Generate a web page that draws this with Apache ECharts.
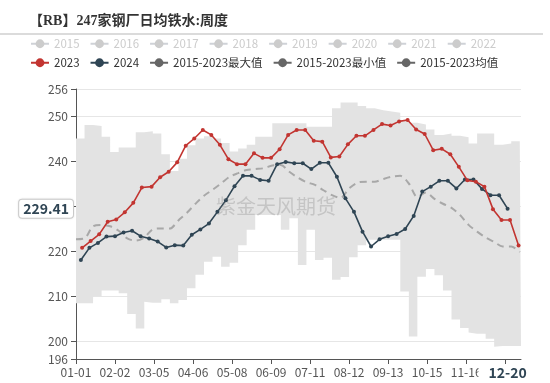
<!DOCTYPE html>
<html><head><meta charset="utf-8">
<script src="https://cdn.jsdelivr.net/npm/echarts@6/dist/echarts.min.js"></script>
<style>html,body{margin:0;padding:0;background:#fff}#c{width:550px;height:383px}</style>
</head><body><div id="c"></div>
<script>
// ---- categories (MM-DD of a leap year) ----
const days = [];
for (let d = new Date(Date.UTC(2024, 0, 1)); d.getUTCFullYear() === 2024; d.setUTCDate(d.getUTCDate() + 1)) {
  days.push(String(d.getUTCMonth() + 1).padStart(2, '0') + '-' + String(d.getUTCDate()).padStart(2, '0'));
}
function weekly(y, m, d, n) {
  const out = []; const t = new Date(Date.UTC(y, m - 1, d));
  for (let i = 0; i < n; i++) {
    out.push(String(t.getUTCMonth() + 1).padStart(2, '0') + '-' + String(t.getUTCDate()).padStart(2, '0'));
    t.setUTCDate(t.getUTCDate() + 7);
  }
  return out;
}
const oldYears = ['2015','2016','2017','2018','2019','2020','2021','2022'];

// ---- series values ----
const vals2023 = [220.7,222.2,223.7,226.5,227.0,228.6,230.7,234.1,234.3,236.4,237.6,239.7,243.4,245.0,246.9,245.8,243.6,240.4,239.3,239.3,241.7,240.7,240.7,242.6,245.8,246.9,246.9,244.5,244.3,240.8,241.0,243.7,245.6,245.6,246.9,248.2,247.9,248.8,249.1,247.0,246.0,242.4,242.7,241.5,238.7,235.7,235.4,234.3,229.3,226.9,226.9,221.2];
const vals2024 = [218.0,220.7,221.8,223.2,223.3,224.1,224.5,223.3,222.8,222.1,220.8,221.3,221.2,223.6,224.8,226.1,228.7,231.3,234.4,236.7,236.7,235.8,235.6,239.3,239.8,239.5,239.5,238.2,239.6,239.6,236.5,231.7,228.7,224.3,221.0,222.6,223.3,223.8,224.9,227.8,233.2,234.3,235.6,235.6,233.9,235.9,235.9,233.8,232.4,232.4,229.41];
const maxVals = [245.0,248.0,247.8,245.4,242.0,243.0,243.0,246.4,246.6,246.1,241.5,237.8,240.5,243.5,245.0,245.5,245.0,244.0,242.1,242.8,243.6,245.4,245.4,248.4,248.4,248.4,248.4,247.6,247.6,247.6,251.7,253.0,253.0,252.2,251.7,251.3,251.0,250.7,249.1,248.5,248.1,247.0,245.8,246.1,245.6,245.3,243.9,246.1,246.1,243.6,243.9,244.4,244.4];
const minVals = [208.4,208.4,209.9,211.2,211.2,210.6,206.0,202.8,208.7,208.5,209.3,208.4,209.1,211.7,214.7,217.6,218.7,216.5,217.4,221.3,224.7,228.0,228.0,228.0,224.7,227.3,216.9,224.7,218.0,218.5,213.6,214.2,218.6,221.3,222.5,222.5,222.5,222.5,211.0,201.0,214.3,216.0,214.6,211.2,204.8,202.9,201.9,201.6,200.5,198.7,198.9,198.9,198.9];
const avgVals = [222.6,222.8,225.5,225.8,225.5,224.5,222.8,222.3,223.0,224.8,225.0,225.0,226.8,228.5,230.5,232.3,233.6,235.0,236.5,237.3,238.0,238.2,238.4,239.0,239.1,237.6,236.3,235.3,234.7,233.5,232.4,231.8,233.9,235.2,235.4,235.4,236.0,236.5,236.7,235.0,232.0,233.0,231.6,230.5,229.6,228.0,225.8,224.3,223.0,222.0,221.0,221.0,219.8];

// ---- build series data ----
const dates2023 = weekly(2023, 1, 6, vals2023.length);
const dates2024 = weekly(2024, 1, 5, vals2024.length);
const bandDays = days.filter((d, i) => i % 7 === 0);
const d2023 = vals2023.map((v, i) => [dates2023[i], v]);
const d2024 = vals2024.map((v, i) => [dates2024[i], v]);
const dMin = minVals.map((v, i) => [bandDays[i], v]).concat([[days[days.length - 1], minVals[minVals.length - 1]]]);
const dDiff = maxVals.map((v, i) => [bandDays[i], +(v - minVals[i]).toFixed(2)]).concat([[days[days.length - 1], +(maxVals[maxVals.length - 1] - minVals[minVals.length - 1]).toFixed(2)]]);
const dAvg = avgVals.map((v, i) => [bandDays[i], v]);

const lastDay = dates2024[dates2024.length - 1];
const lastVal = vals2024[vals2024.length - 1];

const FONT = '"Noto Sans CJK SC", "Noto Sans", sans-serif';
const selected = {};
oldYears.forEach(y => selected[y] = false);

const series = oldYears.map(y => ({ name: y, type: 'line', data: [], symbol: 'circle', color: '#999' }));
series.push(
  { name: '2015-2023最小值', type: 'line', stack: 'band', step: 'end', data: dMin, symbol: 'circle', showSymbol: false,
    lineStyle: { opacity: 0 }, itemStyle: { color: '#666' }, silent: true, z: 1 },
  { name: '2015-2023最大值', type: 'line', stack: 'band', step: 'end', data: dDiff, symbol: 'circle', showSymbol: false,
    lineStyle: { opacity: 0 }, itemStyle: { color: '#666' }, areaStyle: { color: '#e3e3e3', opacity: 1 }, silent: true, z: 1 },
  { name: '2015-2023均值', type: 'line', data: dAvg, symbol: 'circle', showSymbol: false, smooth: 0.3,
    lineStyle: { color: '#a8a8a8', width: 2, type: [7, 5] }, itemStyle: { color: '#666' }, z: 3 },
  { name: '2024', type: 'line', data: d2024, symbol: 'circle', symbolSize: 4, showAllSymbol: true,
    lineStyle: { color: '#2f4554', width: 1.6 }, itemStyle: { color: '#2f4554' }, z: 4 },
  { name: '2023', type: 'line', data: d2023, symbol: 'circle', symbolSize: 4, showAllSymbol: true,
    lineStyle: { color: '#c23531', width: 1.6 }, itemStyle: { color: '#c23531' }, z: 5 }
);

const legendBase = { itemWidth: 18, itemHeight: 11, itemGap: 10, inactiveColor: '#ccc',
  textStyle: { fontSize: 11.5, color: '#333', fontFamily: FONT }, selected: selected, padding: 0 };

const chart = echarts.init(document.getElementById('c'), null, { renderer: 'canvas' });
chart.setOption({
  animation: false,
  title: { text: '【RB】247家钢厂日均铁水:周度', left: 24, top: 9,
    textStyle: { fontSize: 14, fontWeight: 'bold', color: '#333', fontFamily: '"Liberation Serif", "Noto Sans CJK SC", serif' } },
  legend: [
    Object.assign({}, legendBase, { left: 30, top: 38, data: oldYears }),
    Object.assign({}, legendBase, { left: 30, top: 57, data: [
      '2023', '2024',
      { name: '2015-2023最大值', itemStyle: { color: '#666' }, lineStyle: { color: '#666', opacity: 1 } },
      { name: '2015-2023最小值', itemStyle: { color: '#666' }, lineStyle: { color: '#666', opacity: 1 } },
      { name: '2015-2023均值', itemStyle: { color: '#666' }, lineStyle: { color: '#666', opacity: 1, type: 'solid' } }
    ] })
  ],
  grid: { left: 76, right: 29, top: 89, bottom: 24, containLabel: false },
  xAxis: {
    type: 'category', data: days, boundaryGap: false,
    axisLine: { lineStyle: { color: '#555' } },
    axisTick: { interval: 31, length: 5, lineStyle: { color: '#555' } },
    axisLabel: { interval: 31, color: '#555', fontSize: 12, margin: 7, fontFamily: FONT },
    splitLine: { show: false },
    axisPointer: { show: true, status: 'show', value: days.indexOf(lastDay), triggerTooltip: false,
      lineStyle: { opacity: 0 },
      label: { show: true, backgroundColor: '#fff', color: '#2f4554', fontWeight: 'bold', fontSize: 14,
        padding: [2, 10], fontFamily: FONT, margin: 5 } }
  },
  yAxis: {
    type: 'value', min: 196, max: 256,
    axisLine: { show: true, lineStyle: { color: '#555' } },
    axisTick: { show: true, length: 5, lineStyle: { color: '#555' } },
    axisLabel: { color: '#555', fontSize: 12, fontFamily: FONT },
    splitLine: { lineStyle: { color: '#e6e6e6' } },
    axisPointer: { show: true, status: 'show', value: lastVal, triggerTooltip: false,
      lineStyle: { opacity: 0 },
      label: { show: true, formatter: p => Number(p.value).toFixed(2), backgroundColor: '#fff', color: '#2f4554',
        fontWeight: 'bold', fontSize: 14, padding: [2, 4], borderColor: '#d0d0d0', borderWidth: 1,
        shadowColor: 'rgba(0,0,0,0.12)', shadowBlur: 2, fontFamily: FONT } }
  },
  graphic: [
    { type: 'line', shape: { x1: 0, y1: 34, x2: 543, y2: 34 }, style: { stroke: '#cfcfcf', lineWidth: 1.5 }, silent: true },
    { type: 'text', left: 216, top: 196, silent: true, z: 10,
      style: { text: '紫金天风期货', fontSize: 20, fill: 'rgba(120,120,120,0.28)', fontFamily: FONT } }
  ],
  series: series
});
</script></body></html>
